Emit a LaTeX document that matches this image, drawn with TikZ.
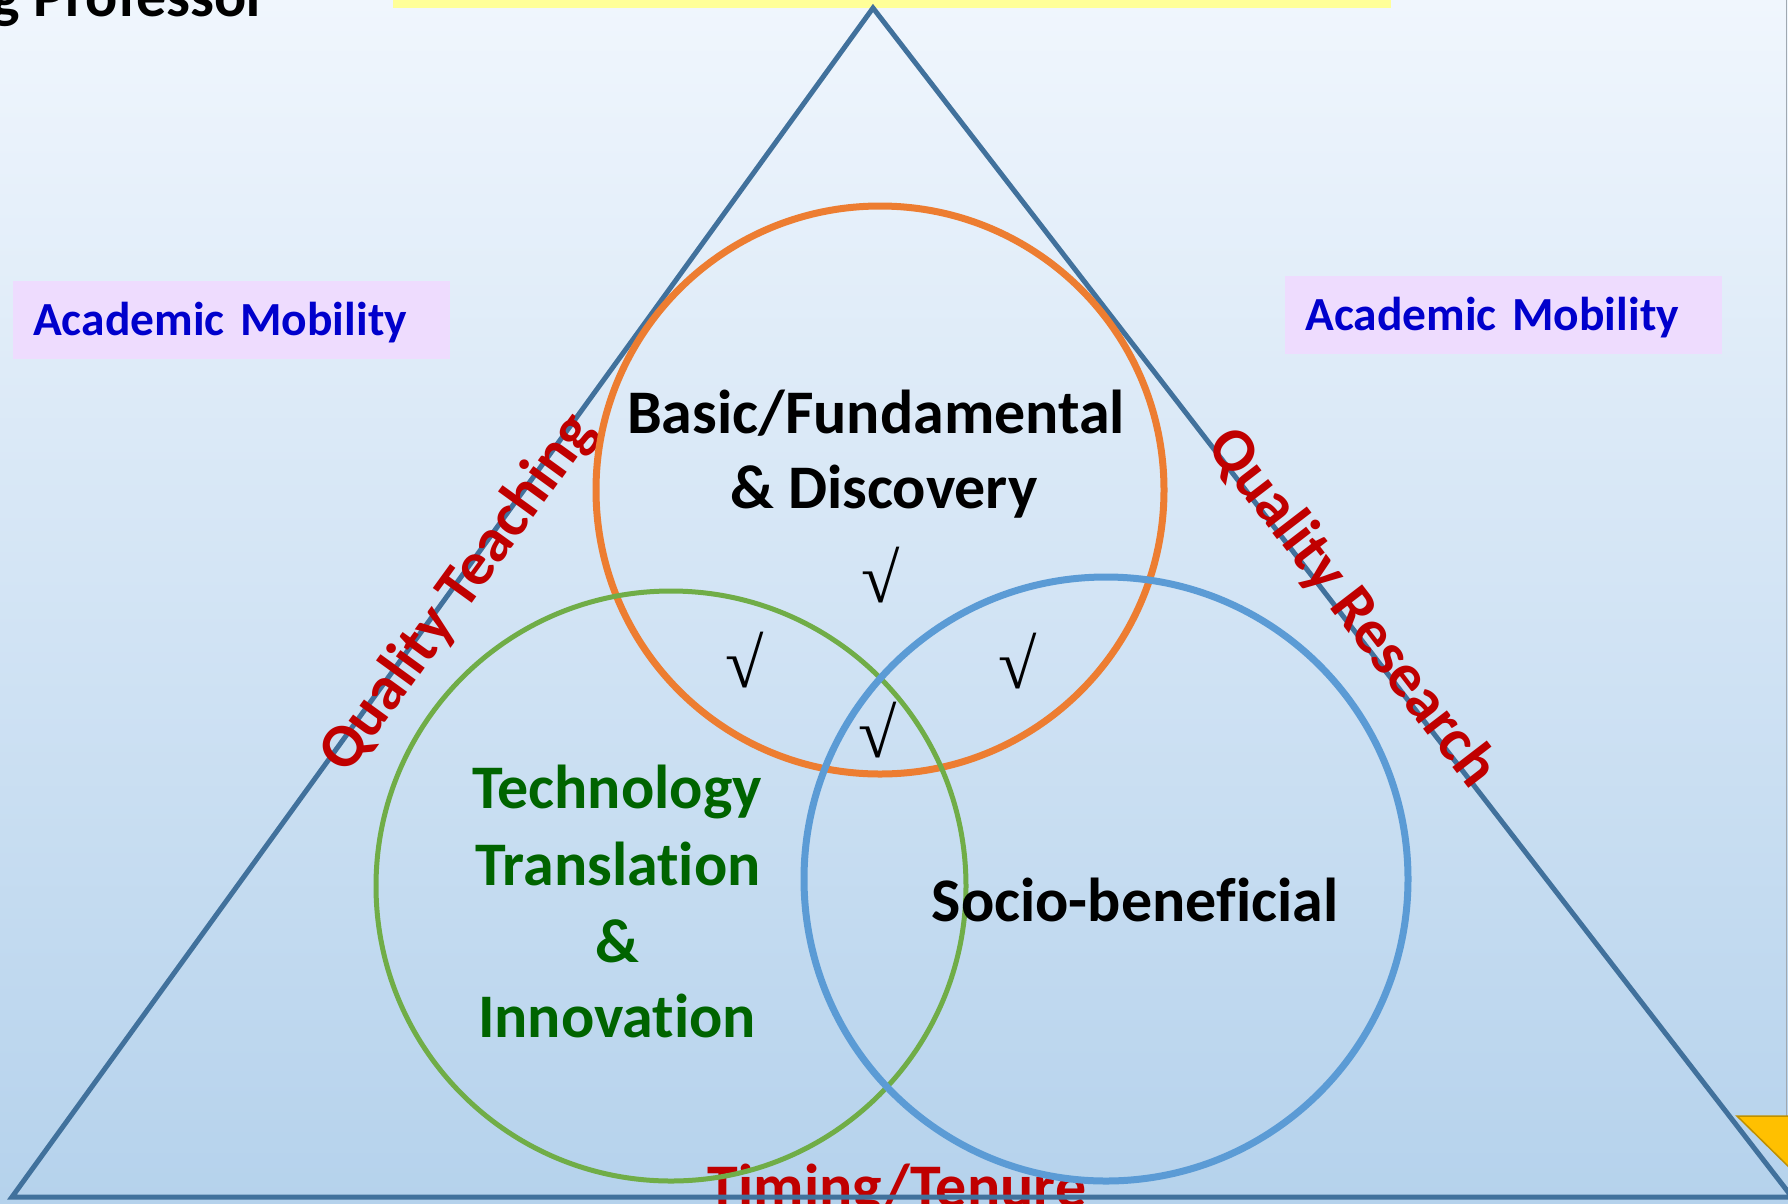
\documentclass[tikz,border=0pt]{standalone}
\usepackage{fontspec}
\setmainfont{Carlito}[RawFeature={-liga;-clig;-calt}]
\newfontfamily\chkfont{Liberation Serif}
\newcommand\ligbrk{\kern0pt{}}
\definecolor{bgtop}{RGB}{240,246,253}
\definecolor{bgbot}{RGB}{181,210,236}
\definecolor{tri}{RGB}{65,113,156}
\definecolor{orng}{RGB}{237,125,49}
\definecolor{grn}{RGB}{112,173,71}
\definecolor{blu}{RGB}{91,155,213}
\definecolor{dred}{RGB}{192,0,0}
\definecolor{dgreen}{RGB}{0,100,0}
\definecolor{mobtext}{RGB}{0,0,204}
\definecolor{mobbox}{RGB}{238,220,254}
\definecolor{stripyellow}{RGB}{255,255,153}
\definecolor{gold}{RGB}{255,192,0}
\definecolor{goldedge}{RGB}{191,144,0}
\definecolor{edgegray}{RGB}{160,168,176}
\begin{document}
\begin{tikzpicture}[x=1pt,y=-1pt,
  bigtxt/.style={inner sep=0pt, anchor=base, font=\bfseries\fontsize{62}{74}\selectfont},
  sidetxt/.style={inner sep=0pt, anchor=mid, text=dred, font=\bfseries\fontsize{62}{74}\selectfont},
  chk/.style={inner sep=0pt, font=\chkfont\fontsize{70}{70}\selectfont},
  ring/.style={circle, inner sep=0pt, fill=none},
  mobility/.style={anchor=north west, fill=mobbox, inner xsep=20pt, inner ysep=17pt,
    text width=397pt, align=left, text height=37pt, text depth=7pt, text=mobtext,
    font=\bfseries\fontsize{47.5}{58}\selectfont},
  triline/.style={draw=tri, line width=5pt, line join=miter}]
\useasboundingbox (0,0) rectangle (1788,1203);
\clip (0,0) rectangle (1788,1203);
\shade[top color=bgtop, bottom color=bgbot] (0,0) rectangle (1788,1203);
% top strip and title fragment
\fill[fill=stripyellow] (393,-2) rectangle (1391,8);
\draw[edgegray, line width=1.5pt] (1786.5,0) -- (1786.5,1116);
\node[inner sep=0pt, anchor=base east, font=\bfseries\fontsize{60}{72}\selectfont] (title) at (268,16) {g Professor};
% bottom label (under the triangle line)
\node[bigtxt, text=dred] (timing) at (897,1207) {Timing/Tenure};
% triangle
\coordinate (A) at (873,8);
\coordinate (BL) at (12,1197);
\coordinate (BR) at (1792,1197);
\draw[triline] (BL) -- (A) -- (BR) -- cycle;
\node[sidetxt, rotate=54.09] (qteach) at (470,602) {Quality Teaching};
\node[sidetxt, rotate=-52.45] (qres) at (1340,617) {Quality Research};
% circles
\node[ring, draw=orng, line width=7pt, minimum size=568pt] (basic) at (880,490) {};
\node[ring, draw=grn, line width=5pt, minimum size=590pt] (tech) at (671,886) {};
\node[ring, draw=blu, line width=7pt, minimum size=604pt] (socio) at (1106,879) {};
% circle texts
\node[bigtxt] (b1) at (876,433) {Basic/Fundamental};
\node[bigtxt] (b2) at (884,508) {\& Discovery};
\node[bigtxt, text=dgreen] (t1) at (617,808) {Technology};
\node[bigtxt, text=dgreen] (t2) at (618,885) {Translat\ligbrk ion};
\node[bigtxt, text=dgreen] (t3) at (617,962) {\&};
\node[bigtxt, text=dgreen] (t4) at (617,1037) {Innovat\ligbrk ion};
\node[bigtxt] (s1) at (1135,921) {Socio-benef\ligbrk ic\ligbrk ial};
% check marks
\node[chk] (c1) at (881,575) {√};
\node[chk] (c2) at (745,660) {√};
\node[chk] (c3) at (1018,661) {√};
\node[chk] (c4) at (878,730) {√};
% academic mobility boxes
\node[mobility] (mobL) at (13,281) {\mbox{Academic Mobility}};
\node[mobility] (mobR) at (1285,276) {\mbox{Academic Mobility}};
% corner marker
\filldraw[fill=gold, draw=goldedge, line width=1.5pt] (1737,1116) -- (1792,1116) -- (1792,1170) -- cycle;
\end{tikzpicture}
\end{document}
